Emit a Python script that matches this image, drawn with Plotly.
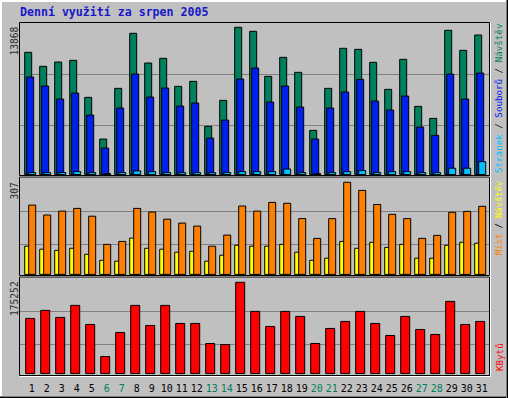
import plotly.graph_objects as go

# ---------------- data ----------------
days = list(range(1, 32))
weekend_days = [6, 7, 13, 14, 20, 21, 27, 28]

hits = [11512, 10193, 10598, 10758, 7273, 3344, 8120, 13302, 10504, 10947, 8309,
        8780, 4541, 6990, 13868, 13490, 9251, 11041, 9628, 4164, 8120, 11889,
        11794, 10570, 8026, 10852, 6425, 5294, 13584, 11700, 13142]
files = [9185, 8337, 7112, 7678, 5605, 2496, 6265, 9468, 7301, 8149, 6453, 6736,
         3438, 5134, 8997, 10033, 6830, 8337, 6359, 3344, 6265, 7772, 8968, 6924,
         6076, 7395, 4475, 3693, 9468, 7112, 9562]
pages = [190, 185, 195, 280, 190, 95, 190, 350, 280, 190, 185, 190, 180, 190, 280,
         280, 280, 520, 190, 95, 190, 280, 380, 190, 280, 280, 190, 190, 600, 600, 1220]
navstev = [94, 84, 80, 87, 67, 47, 44, 121, 87, 84, 74, 77, 44, 64, 97, 94, 94, 100,
           74, 47, 54, 110, 87, 107, 90, 100, 54, 54, 97, 107, 104]
mist = [231, 198, 211, 220, 194, 100, 110, 220, 208, 184, 171, 161, 94, 131, 228, 211,
        240, 237, 186, 120, 186, 307, 280, 233, 200, 186, 120, 130, 207, 210, 227]
kbytes = [105919, 121325, 107845, 130954, 94364, 32739, 78958, 130954, 92438, 130954,
          96290, 96290, 57774, 55848, 175252, 119400, 90512, 119400, 109771, 57774,
          86661, 100142, 119400, 96290, 73180, 109771, 84735, 75106, 138657, 94364,
          100142]

title = "Denní využití za srpen 2005"

# ---------------- geometry (pixels) ----------------
W, H = 508, 398
BG = "#c0c0c0"
MONO = "DejaVu Sans Mono"
PX = 15.0                     # pixels per day
DAY1_PX = 31.7                # centre of day 1
LEFT, RIGHT = 20, 489.5

def fx(p):
    return p / W

def fy(p):
    return 1 - p / H

# panel: top, bottom, baseline, top of tallest bar, gridlines
panels = [
    dict(top=23, bottom=176, base=174.6, peak=27.3, grid=[125, 74], vmax=max(hits)),
    dict(top=177.5, bottom=276, base=274.4, peak=182.3, grid=[244, 211.3], vmax=max(mist)),
    dict(top=277.5, bottom=376, base=373.6, peak=282.3, grid=[344, 311.3], vmax=max(kbytes)),
]

fig = go.Figure()

def bar(y, color, off_px, w_px, axis):
    fig.add_trace(go.Bar(
        x=days, y=y, xaxis="x" + axis, yaxis="y" + axis,
        offset=off_px / PX, width=w_px / PX,
        marker=dict(color=color, line=dict(color="#000000", width=1)),
        showlegend=False, hoverinfo="x+y"))

bar(hits, "#00805c", -7, 7, "")
bar(files, "#0020f0", -5, 7, "")
bar(pages, "#00c0ff", -3, 7, "")
bar(navstev, "#ffff00", -7, 7, "2")
bar(mist, "#ff8000", -3, 7, "2")
bar(kbytes, "#ff0000", -6, 9, "3")

xr = [1 + (LEFT - DAY1_PX) / PX, 1 + (RIGHT - DAY1_PX) / PX]
ticktext = [
    (f'<span style="color:#00805c">{d}</span>' if d in weekend_days else str(d))
    for d in days
]

layout = dict(
    width=W, height=H, autosize=False,
    margin=dict(l=0, r=0, t=0, b=0, pad=0),
    paper_bgcolor=BG, plot_bgcolor=BG,
    barmode="overlay", showlegend=False,
)
suffixes = ["", "2", "3"]
for i, (p, s) in enumerate(zip(panels, suffixes)):
    scale = p["vmax"] / (p["base"] - p["peak"])
    ymax = (p["base"] - p["top"]) * scale
    ymin = -(p["bottom"] - p["base"]) * scale
    layout["xaxis" + s] = dict(
        domain=[fx(LEFT), fx(RIGHT)], range=xr, anchor="y" + s,
        showgrid=False, zeroline=False, showline=False, fixedrange=True,
        tickvals=days, ticktext=ticktext,
        showticklabels=(i == 2), ticks="outside" if i == 2 else "",
        ticklen=3, tickcolor=BG,
        tickfont=dict(family=MONO, size=10, color="#000000"),
    )
    layout["yaxis" + s] = dict(
        domain=[fy(p["bottom"]), fy(p["top"])], range=[ymin, ymax],
        anchor="x" + s, showticklabels=False, zeroline=False, showline=False,
        tickvals=[(p["base"] - g) * scale for g in p["grid"]],
        showgrid=True, gridcolor="#808080", gridwidth=1, ticks="",
        fixedrange=True,
    )
fig.update_layout(**layout)

# ---------------- shapes: borders ----------------
shapes = []

def line(x0, y0, x1, y1, color):
    shapes.append(dict(type="line", xref="paper", yref="paper",
                       x0=fx(x0), y0=fy(y0), x1=fx(x1), y1=fy(y1),
                       line=dict(color=color, width=1)))

# outer bevel
line(0, 0.5, W, 0.5, "#ffffff")
line(0, 1.5, W - 1, 1.5, "#ffffff")
line(0.5, 0, 0.5, H, "#ffffff")
line(1.5, 0, 1.5, H - 1, "#ffffff")
line(0, H - 1.5, W, H - 1.5, "#808080")
line(0, H - 0.5, W, H - 0.5, "#000000")
line(W - 1.5, 0, W - 1.5, H, "#808080")
line(W - 0.5, 0, W - 0.5, H, "#000000")

for p in panels:
    t, b = p["top"] - 0.5, p["bottom"] - 0.5
    l, r = LEFT - 0.5, RIGHT
    line(l, t, r, t, "#000000")
    line(l, t, l, b, "#000000")
    line(l, b, r, b, "#000000")
    line(r, t, r, b, "#000000")
    line(l, b + 1, r + 1, b + 1, "#ffffff")
    line(r + 1, t, r + 1, b + 1, "#ffffff")

fig.update_layout(shapes=shapes)

# ---------------- annotations ----------------
ann = []
ann.append(dict(text=f"<b>{title}</b>", xref="paper", yref="paper",
                x=fx(18), y=fy(12.5), xanchor="left", yanchor="middle",
                showarrow=False, font=dict(family=MONO, size=11.6, color="#1818c8")))

labels = [str(max(hits)), str(max(mist)), str(max(kbytes))]
for p, lab in zip(panels, labels):
    ann.append(dict(text=lab, xref="paper", yref="paper", textangle=-90,
                    x=fx(14), y=fy(p["top"] + 2), xanchor="center", yanchor="top",
                    showarrow=False, font=dict(family=MONO, size=9.6, color="#303030")))

right = [
    ('<span style="color:#00c0ff">Stránek</span> / '
     '<span style="color:#0020f0">Souborů</span> / '
     '<span style="color:#00805c">Návštěv</span>', 175, "bottom", 9.2),
    ('<span style="color:#ff8000">Míst</span> / '
     '<span style="color:#ffff00">Návštěv</span>', 179, "top", 8.8),
    ('<span style="color:#ff0000">KBytů</span>', 373, "bottom", 9.2),
]
for txt, ypx, anc, sz in right:
    ann.append(dict(text=txt, xref="paper", yref="paper", textangle=-90,
                    x=fx(499), y=fy(ypx), xanchor="center", yanchor=anc,
                    showarrow=False, font=dict(family=MONO, size=sz, color="#000000")))

fig.update_layout(annotations=ann)
fig.write_html("out.html", config={"displayModeBar": False},
               post_script="document.body.style.margin='0';document.body.style.padding='0';")
